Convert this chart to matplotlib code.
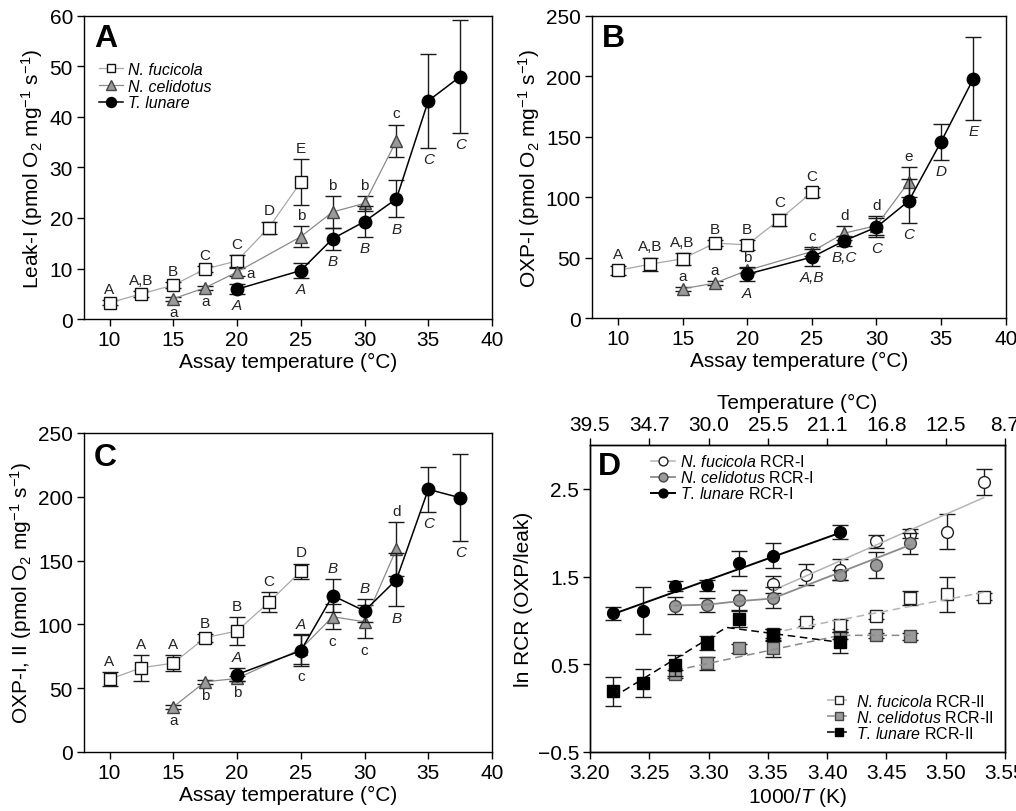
import matplotlib
matplotlib.use('Agg')
import matplotlib.pyplot as plt
from matplotlib.lines import Line2D

plt.rcParams['font.family'] = ['Liberation Sans', 'DejaVu Sans']
plt.rcParams['mathtext.fontset'] = 'custom'
plt.rcParams['mathtext.rm'] = 'Liberation Sans'
plt.rcParams['mathtext.it'] = 'Liberation Sans:italic'
plt.rcParams['mathtext.bf'] = 'Liberation Sans:bold'
plt.rcParams['axes.unicode_minus'] = True

# ---- panel A: Leak-I ----
a_fuc_t = [10, 12.5, 15, 17.5, 20, 22.5, 25]
a_fuc_y = [3.2, 5.0, 6.7, 9.9, 11.5, 18.1, 27.1]
a_fuc_e = [0.5, 0.6, 0.6, 0.6, 1.2, 1.2, 4.6]
a_fuc_lab = ['A', 'A,B', 'B', 'C', 'C', 'D', 'E']

a_cel_t = [15, 17.5, 20, 25, 27.5, 30, 32.5]
a_cel_y = [4.0, 6.2, 9.3, 16.3, 21.2, 22.9, 35.3]
a_cel_e = [0.4, 0.4, 0.8, 2.1, 3.1, 1.5, 3.2]
a_cel_lab = ['a', 'a', 'a', 'b', 'b', 'b', 'c']
a_cel_where = ['below', 'below', 'right', 'above', 'above', 'above', 'above']

a_tlu_t = [20, 25, 27.5, 30, 32.5, 35, 37.5]
a_tlu_y = [5.9, 9.6, 15.9, 19.3, 23.8, 43.2, 48.0]
a_tlu_e = [1.0, 1.5, 2.2, 3.0, 3.7, 9.3, 11.2]
a_tlu_lab = ['A', 'A', 'B', 'B', 'B', 'C', 'C']

# ---- panel B: OXP-I ----
b_fuc_t = [10, 12.5, 15, 17.5, 20, 22.5, 25]
b_fuc_y = [39.4, 44.6, 49.0, 62.0, 60.6, 81.5, 104.0]
b_fuc_e = [4.0, 5.5, 5.0, 2.5, 4.0, 5.0, 4.0]
b_fuc_lab = ['A', 'A,B', 'A,B', 'B', 'B', 'C', 'C']

b_cel_t = [15, 17.5, 20, 25, 27.5, 30, 32.5]
b_cel_y = [24.2, 28.9, 39.4, 55.0, 70.2, 76.5, 112.6]
b_cel_e = [1.5, 1.5, 2.0, 4.0, 6.0, 8.0, 12.5]
b_cel_lab = ['a', 'a', 'b', 'c', 'd', 'd', 'e']

b_tlu_t = [20, 25, 27.5, 30, 32.5, 35, 37.5]
b_tlu_y = [36.3, 50.4, 63.9, 75.2, 96.9, 145.9, 198.2]
b_tlu_e = [6.0, 7.0, 4.0, 8.0, 18.0, 15.0, 34.0]
b_tlu_lab = ['A', 'A,B', 'B,C', 'C', 'C', 'D', 'E']

# ---- panel C: OXP-I,II ----
c_fuc_t = [10, 12.5, 15, 17.5, 20, 22.5, 25]
c_fuc_y = [57.0, 66.0, 69.6, 89.5, 94.8, 117.3, 141.6]
c_fuc_e = [5.5, 10.0, 6.0, 3.0, 11.0, 8.0, 6.0]
c_fuc_lab = ['A', 'A', 'A', 'B', 'B', 'C', 'D']

c_cel_t = [15, 17.5, 20, 25, 27.5, 30, 32.5]
c_cel_y = [35.3, 55.0, 57.6, 80.6, 106.0, 102.0, 159.0]
c_cel_e = [1.5, 1.5, 2.0, 12.0, 10.0, 13.0, 21.0]
c_cel_lab = ['a', 'b', 'b', 'c', 'c', 'c', 'd']
c_cel_where = ['below', 'below', 'below', 'below', 'below', 'below', 'above']

c_tlu_t = [20, 25, 27.5, 30, 32.5, 35, 37.5]
c_tlu_y = [60.7, 79.3, 122.5, 110.5, 135.0, 205.8, 199.2]
c_tlu_e = [5.0, 12.0, 13.0, 9.0, 21.0, 17.5, 34.0]
c_tlu_lab = ['A', 'A', 'B', 'B', 'B', 'C', 'C']
c_tlu_where = ['above', 'above', 'above', 'above', 'below', 'below', 'below']

# ---- panel D: ln RCR vs 1000/T ----
d_ticks = [3.20, 3.25, 3.30, 3.35, 3.40, 3.45, 3.50, 3.55]
d_top_labels = ['39.5', '34.7', '30.0', '25.5', '21.1', '16.8', '12.5', '8.7']

r1_fuc_x = [3.354, 3.382, 3.411, 3.441, 3.470, 3.501, 3.532]
r1_fuc_y = [1.41, 1.52, 1.58, 1.90, 1.99, 2.01, 2.58]
r1_fuc_e = [0.10, 0.12, 0.12, 0.07, 0.05, 0.20, 0.15]
r1_fuc_fit_x = [3.354, 3.532]
r1_fuc_fit_y = [1.34, 2.40]

r1_cel_x = [3.272, 3.299, 3.326, 3.354, 3.411, 3.441, 3.470]
r1_cel_y = [1.17, 1.18, 1.23, 1.26, 1.52, 1.63, 1.88]
r1_cel_e = [0.10, 0.08, 0.12, 0.12, 0.06, 0.15, 0.12]
r1_cel_fit_x = [3.272, 3.299, 3.326, 3.354, 3.470]
r1_cel_fit_y = [1.17, 1.18, 1.22, 1.25, 1.86]

r1_tlu_x = [3.219, 3.245, 3.272, 3.299, 3.326, 3.354, 3.411]
r1_tlu_y = [1.08, 1.11, 1.39, 1.40, 1.65, 1.74, 2.01]
r1_tlu_e = [0.07, 0.27, 0.06, 0.06, 0.14, 0.14, 0.08]
r1_tlu_fit_x = [3.219, 3.411]
r1_tlu_fit_y = [1.07, 2.00]

r2_fuc_x = [3.354, 3.382, 3.411, 3.441, 3.470, 3.501, 3.532]
r2_fuc_y = [0.85, 0.98, 0.95, 1.05, 1.26, 1.30, 1.27]
r2_fuc_e = [0.05, 0.04, 0.05, 0.03, 0.08, 0.20, 0.04]
r2_fuc_fit_x = [3.354, 3.532]
r2_fuc_fit_y = [0.86, 1.32]

r2_cel_x = [3.272, 3.299, 3.326, 3.354, 3.411, 3.441, 3.470]
r2_cel_y = [0.39, 0.51, 0.68, 0.68, 0.83, 0.83, 0.82]
r2_cel_e = [0.05, 0.07, 0.05, 0.10, 0.04, 0.03, 0.04]
r2_cel_fit_x = [3.272, 3.411, 3.470]
r2_cel_fit_y = [0.43, 0.83, 0.83]

r2_tlu_x = [3.219, 3.245, 3.272, 3.299, 3.326, 3.354, 3.411]
r2_tlu_y = [0.19, 0.29, 0.49, 0.74, 1.02, 0.83, 0.75]
r2_tlu_e = [0.17, 0.16, 0.12, 0.08, 0.10, 0.07, 0.12]
r2_tlu_fit_x = [3.219, 3.315, 3.411]
r2_tlu_fit_y = [0.12, 0.92, 0.75]

# styles
FUC = dict(marker='s', mfc='white', mec='#111', color='#a8a8a8', lw=0.9, ms=8)
CEL = dict(marker='^', mfc='#9a9a9a', mec='#444', color='#8a8a8a', lw=0.9, ms=8.5)
TLU = dict(marker='o', mfc='black', mec='black', color='black', lw=1.1, ms=9)
ERR = dict(fmt='none', ecolor='#1a1a1a', elinewidth=1.0, capsize=6, capthick=1.0)

TICK_FS = 15
LAB_FS = 11


def letters(ax, xs, ys, es, labs, where, italic=False):
    for x, y, e, lab, w in zip(xs, ys, es, labs, where):
        kw = dict(fontsize=LAB_FS, color='#222', textcoords='offset points',
                  style='italic' if italic else 'normal')
        if w == 'above':
            ax.annotate(lab, (x, y + e), xytext=(0, 3), ha='center', va='bottom', **kw)
        elif w == 'below':
            ax.annotate(lab, (x, y - e), xytext=(0, -3), ha='center', va='top', **kw)
        else:
            ax.annotate(lab, (x, y), xytext=(7, -1), ha='left', va='center', **kw)


def series(ax, t, y, e, style, z):
    ax.errorbar(t, y, yerr=e, zorder=z, **ERR)
    ax.plot(t, y, zorder=z + 0.5, **style)


def style_axes(ax):
    ax.tick_params(labelsize=TICK_FS, length=5, width=1, direction='out', pad=3)
    for s in ax.spines.values():
        s.set_linewidth(1)


def temp_panel(ax, fuc, cel, tlu, ylim, yticks, ylabel, letter):
    series(ax, fuc[0], fuc[1], fuc[2], FUC, 2)
    series(ax, cel[0], cel[1], cel[2], CEL, 3)
    series(ax, tlu[0], tlu[1], tlu[2], TLU, 4)
    letters(ax, fuc[0], fuc[1], fuc[2], fuc[3], fuc[4])
    letters(ax, cel[0], cel[1], cel[2], cel[3], cel[4])
    letters(ax, tlu[0], tlu[1], tlu[2], tlu[3], tlu[4], italic=True)
    ax.set_xlim(8, 40)
    ax.set_xticks([10, 15, 20, 25, 30, 35, 40])
    ax.set_ylim(*ylim)
    ax.set_yticks(yticks)
    ax.set_xlabel('Assay temperature (°C)', fontsize=TICK_FS, labelpad=2)
    ax.set_ylabel(ylabel, fontsize=TICK_FS, labelpad=3)
    ax.text(0.025, 0.9, letter, transform=ax.transAxes, fontsize=23,
            fontweight='bold', va='baseline', ha='left')
    style_axes(ax)


fig = plt.figure(figsize=(10.16, 8.12), dpi=100)
axA = fig.add_axes([0.0827, 0.6059, 0.4016, 0.3732])
axB = fig.add_axes([0.5827, 0.6071, 0.4072, 0.3720])
axC = fig.add_axes([0.0827, 0.0727, 0.4016, 0.3929])
axD = fig.add_axes([0.5807, 0.0727, 0.4085, 0.3780])

unit = r' (pmol O$_2$ mg$^{-1}$ s$^{-1}$)'

temp_panel(axA,
           (a_fuc_t, a_fuc_y, a_fuc_e, a_fuc_lab, ['above'] * 7),
           (a_cel_t, a_cel_y, a_cel_e, a_cel_lab, a_cel_where),
           (a_tlu_t, a_tlu_y, a_tlu_e, a_tlu_lab, ['below'] * 7),
           (0, 60), [0, 10, 20, 30, 40, 50, 60], 'Leak-I' + unit, 'A')
temp_panel(axB,
           (b_fuc_t, b_fuc_y, b_fuc_e, b_fuc_lab, ['above'] * 7),
           (b_cel_t, b_cel_y, b_cel_e, b_cel_lab, ['above'] * 7),
           (b_tlu_t, b_tlu_y, b_tlu_e, b_tlu_lab, ['below'] * 7),
           (0, 250), [0, 50, 100, 150, 200, 250], 'OXP-I' + unit, 'B')
temp_panel(axC,
           (c_fuc_t, c_fuc_y, c_fuc_e, c_fuc_lab, ['above'] * 7),
           (c_cel_t, c_cel_y, c_cel_e, c_cel_lab, c_cel_where),
           (c_tlu_t, c_tlu_y, c_tlu_e, c_tlu_lab, c_tlu_where),
           (0, 250), [0, 50, 100, 150, 200, 250], 'OXP-I, II' + unit, 'C')

legA = [Line2D([], [], **FUC), Line2D([], [], **CEL), Line2D([], [], **TLU)]
axA.legend(legA, ['N. fucicola', 'N. celidotus', 'T. lunare'],
           loc='upper left', bbox_to_anchor=(0.01, 0.885), frameon=False,
           prop=dict(size=11.5, style='italic'), handlelength=1.5,
           handletextpad=0.3, labelspacing=0.1, borderpad=0.2,
           markerscale=0.8)

# ---- panel D ----
D_FUC1 = dict(marker='o', mfc='white', mec='#222', ms=8.5)
D_CEL1 = dict(marker='o', mfc='#9a9a9a', mec='#444', ms=8.5)
D_TLU1 = dict(marker='o', mfc='black', mec='black', ms=8.5)
D_FUC2 = dict(marker='s', mfc='white', mec='#222', ms=8.5)
D_CEL2 = dict(marker='s', mfc='#9a9a9a', mec='#444', ms=8.5)
D_TLU2 = dict(marker='s', mfc='black', mec='black', ms=8.5)
L_FUC1 = dict(color='#b4b4b4', lw=1.1, ls='-')
L_CEL1 = dict(color='#8a8a8a', lw=1.3, ls='-')
L_TLU1 = dict(color='black', lw=1.4, ls='-')
L_FUC2 = dict(color='#b4b4b4', lw=1.1, ls=(0, (5, 3)))
L_CEL2 = dict(color='#8a8a8a', lw=1.1, ls=(0, (5, 3)))
L_TLU2 = dict(color='black', lw=1.1, ls=(0, (5, 3)))

groups = [
    (r2_cel_x, r2_cel_y, r2_cel_e, r2_cel_fit_x, r2_cel_fit_y, D_CEL2, L_CEL2),
    (r2_fuc_x, r2_fuc_y, r2_fuc_e, r2_fuc_fit_x, r2_fuc_fit_y, D_FUC2, L_FUC2),
    (r2_tlu_x, r2_tlu_y, r2_tlu_e, r2_tlu_fit_x, r2_tlu_fit_y, D_TLU2, L_TLU2),
    (r1_fuc_x, r1_fuc_y, r1_fuc_e, r1_fuc_fit_x, r1_fuc_fit_y, D_FUC1, L_FUC1),
    (r1_cel_x, r1_cel_y, r1_cel_e, r1_cel_fit_x, r1_cel_fit_y, D_CEL1, L_CEL1),
    (r1_tlu_x, r1_tlu_y, r1_tlu_e, r1_tlu_fit_x, r1_tlu_fit_y, D_TLU1, L_TLU1),
]
for i, (x, y, e, fx, fy, mk, ln) in enumerate(groups):
    z = 2 + i
    axD.errorbar(x, y, yerr=e, zorder=z, **ERR)
    axD.plot(x, y, ls='none', zorder=z + 0.3, **mk)
    axD.plot(fx, fy, zorder=z + 0.6, **ln)

axD.set_xlim(3.20, 3.55)
axD.set_xticks(d_ticks)
axD.set_xticklabels(['%.2f' % v for v in d_ticks])
axD.set_ylim(-0.5, 3.0)
axD.set_yticks([-0.5, 0.5, 1.5, 2.5])
axD.set_yticklabels(['\u22120.5', '0.5', '1.5', '2.5'])
axD.set_xlabel('1000/$\\mathit{T}$ (K)', fontsize=TICK_FS, labelpad=2)
axD.set_ylabel('ln RCR (OXP/leak)', fontsize=TICK_FS, labelpad=3)
style_axes(axD)
axD.text(0.02, 0.905, 'D', transform=axD.transAxes, fontsize=23,
         fontweight='bold', va='baseline', ha='left')

axT = axD.twiny()
axT.set_xlim(3.20, 3.55)
axT.set_xticks(d_ticks)
axT.set_xticklabels(d_top_labels)
axT.set_xlabel('Temperature (°C)', fontsize=TICK_FS, labelpad=5)
style_axes(axT)

h1 = [Line2D([], [], **D_FUC1, **L_FUC1), Line2D([], [], **D_CEL1, **L_CEL1),
      Line2D([], [], **D_TLU1, **L_TLU1)]
h2 = [Line2D([], [], **D_FUC2, **L_FUC2), Line2D([], [], **D_CEL2, **L_CEL2),
      Line2D([], [], **D_TLU2, **L_TLU2)]
names1 = [r'$\mathit{N.\,fucicola}$ RCR-I',
          r'$\mathit{N.\,celidotus}$ RCR-I',
          r'$\mathit{T.\,lunare}$ RCR-I']
names2 = [r'$\mathit{N.\,fucicola}$ RCR-II',
          r'$\mathit{N.\,celidotus}$ RCR-II',
          r'$\mathit{T.\,lunare}$ RCR-II']
legD1 = axD.legend(h1, names1, loc='upper left', bbox_to_anchor=(0.12, 1.01),
                   frameon=False, fontsize=11.5, handlelength=1.5,
                   handletextpad=0.3, labelspacing=0.0, borderpad=0.2,
                   markerscale=0.75)
axD.add_artist(legD1)
axD.legend(h2, names2, loc='lower right', bbox_to_anchor=(1.0, 0.0),
           frameon=False, fontsize=11.5, handlelength=1.5,
           handletextpad=0.3, labelspacing=0.0, borderpad=0.2,
           markerscale=0.75)

fig.savefig('out.png', dpi=100)
